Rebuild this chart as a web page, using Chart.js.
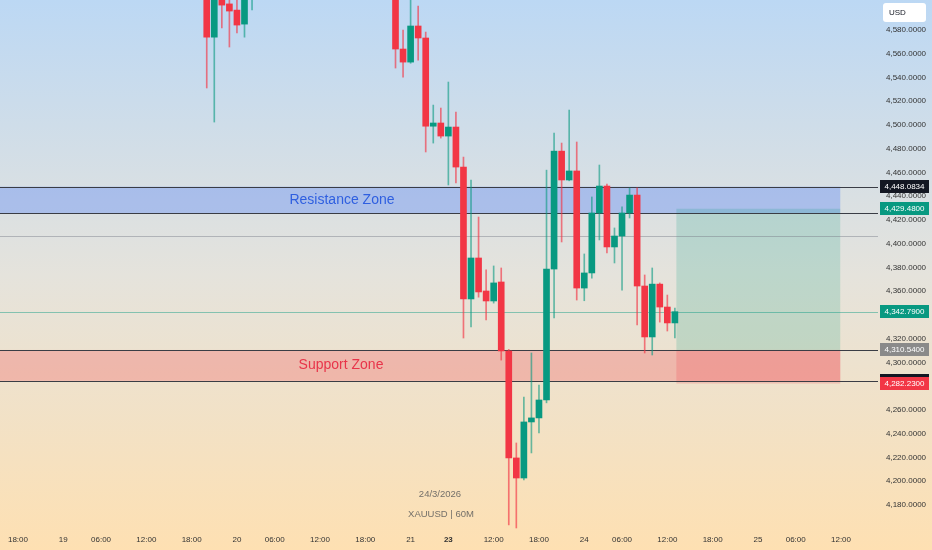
<!DOCTYPE html>
<html>
<head>
<meta charset="utf-8">
<script src="https://cdn.jsdelivr.net/npm/chart.js@4.4.1/dist/chart.umd.min.js"></script>
<style>
  html, body { margin: 0; padding: 0; background: #fff; }
  canvas { display: block; }
</style>
</head>
<body>
<canvas id="chart" width="932" height="550"></canvas>
<script>
// XAUUSD 60M candles, slot index = hours on the trading time axis
const FIRST_SLOT = 25;
const opens  = [4612, 4574, 4608, 4602, 4596.8, 4585, 4612,
  null, null, null, null, null, null, null, null, null, null, null, null, null, null, null, null, null, null,
  4612, 4564, 4553, 4583.4, 4573.3, 4499, 4501.7, 4490.7, 4498.3, 4464.6, 4353.5, 4388, 4360.2, 4351.8,
  4367.8, 4309.7, 4219.6, 4202.7, 4249.9, 4253.3, 4268.4, 4378.7, 4478, 4453.7, 4461.3, 4362.7, 4375.4,
  4425.9, 4448.6, 4397.3, 4406.5, 4425.9, 4441, 4364.4, 4321.5, 4366, 4346.7, 4333.3];
const highs  = [4618, 4625, 4612, 4612, 4608, 4620, 4625,
  null, null, null, null, null, null, null, null, null, null, null, null, null, null, null, null, null, null,
  4615, 4580, 4610, 4600.2, 4578.3, 4516.8, 4514.3, 4536.2, 4511, 4473, 4453.7, 4422.5, 4378, 4381.3,
  4379.6, 4311, 4232.2, 4270.9, 4308, 4281, 4462, 4493.3, 4484.8, 4512.6, 4485.7, 4391.4, 4439.4,
  4466.3, 4450.3, 4413.3, 4431, 4447, 4447, 4373.7, 4379.6, 4367, 4356.8, 4345.9];
const lows   = [4531.2, 4502.5, 4581.7, 4565.7, 4577.5, 4574, 4597,
  null, null, null, null, null, null, null, null, null, null, null, null, null, null, null, null, null, null,
  4548, 4540.4, 4552, 4554.7, 4477.3, 4484.8, 4489, 4449.5, 4451.2, 4320.6, 4330, 4355, 4335.8, 4350,
  4302, 4163.2, 4160.6, 4201, 4223.8, 4240.6, 4266, 4337.5, 4401.5, 4453, 4352.6, 4352, 4371,
  4403.2, 4392.2, 4383.8, 4361, 4421.7, 4331.6, 4308, 4306.3, 4334, 4326.5, 4320.6];
const closes = [4574, 4615, 4601, 4596, 4584.2, 4610, 4618,
  null, null, null, null, null, null, null, null, null, null, null, null, null, null, null, null, null, null,
  4564, 4553, 4583.4, 4573.3, 4499, 4501.7, 4490.7, 4498.3, 4464.6, 4353.5, 4388, 4359.4, 4351.8, 4367,
  4309.7, 4219.6, 4202.7, 4249.9, 4253.3, 4268.4, 4378.7, 4478, 4453.7, 4461.3, 4362.7, 4375.4, 4425.9,
  4448.6, 4397.3, 4406.5, 4425.9, 4441, 4364.4, 4321.5, 4366, 4346.7, 4333.3, 4342.79];

// time axis ticks
const xTickSlots  = [0, 6, 11, 17, 23, 29, 34, 40, 46, 52, 57, 63, 69, 75, 80, 86, 92, 98, 103, 109];
const xTickLabels = ["18:00", "19", "06:00", "12:00", "18:00", "20", "06:00", "12:00", "18:00", "21",
  "23", "12:00", "18:00", "24", "06:00", "12:00", "18:00", "25", "06:00", "12:00"];

// drawings (prices / slots)
const resistanceZone = [4448.0834, 4425.9];
const supportZone    = [4310.54, 4284.5];
const zoneEndSlot    = 108.9;
const hLinePrice     = 4406.5;
const lastPrice      = 4342.79;
const position       = { entry: 4310.54, target: 4429.48, stop: 4282.23, from: 87.2, to: 108.9 };

const UP = "#089981", DOWN = "#F23645";
const FONT = "'Liberation Sans', Arial, sans-serif";

const wickData = [], bodyData = [], bodyColors = [], wickColors = [];
opens.forEach((o, k) => {
  if (o === null) return;
  const slot = FIRST_SLOT + k;
  const up = closes[k] >= o;
  wickData.push({ x: slot, y: [lows[k], highs[k]] });
  bodyData.push({ x: slot, y: [o, closes[k]] });
  bodyColors.push(up ? UP : DOWN);
  wickColors.push(up ? "rgba(8,153,129,0.6)" : "rgba(242,54,69,0.65)");
});

const fmt = v => v.toLocaleString("en-US", { minimumFractionDigits: 4, maximumFractionDigits: 4 });

const background = {
  id: "background",
  beforeDraw(chart) {
    const { ctx, width, height } = chart;
    const g = ctx.createLinearGradient(0, 0, 0, height);
    g.addColorStop(0, "#bcd8f4");
    g.addColorStop(0.5, "#e5e3dc");
    g.addColorStop(1, "#fee0b2");
    ctx.save();
    ctx.fillStyle = g;
    ctx.fillRect(0, 0, width, height);
    ctx.restore();
  }
};

const drawings = {
  id: "drawings",
  beforeDatasetsDraw(chart) {
    const { ctx, scales: { x, y } } = chart;
    const x0 = x.getPixelForValue(x.min), x1 = x.getPixelForValue(zoneEndSlot);
    ctx.save();
    // zones
    ctx.fillStyle = "rgba(41,98,255,0.27)";
    ctx.fillRect(x0, y.getPixelForValue(resistanceZone[0]), x1 - x0,
      y.getPixelForValue(resistanceZone[1]) - y.getPixelForValue(resistanceZone[0]));
    ctx.fillStyle = "rgba(242,54,69,0.25)";
    ctx.fillRect(x0, y.getPixelForValue(supportZone[0]), x1 - x0,
      y.getPixelForValue(supportZone[1]) - y.getPixelForValue(supportZone[0]));
    // long position
    const px0 = x.getPixelForValue(position.from), px1 = x.getPixelForValue(position.to);
    const yT = y.getPixelForValue(position.target), yE = y.getPixelForValue(position.entry), yS = y.getPixelForValue(position.stop);
    ctx.fillStyle = "rgba(8,153,129,0.18)";
    ctx.fillRect(px0, yT, px1 - px0, yE - yT);
    ctx.fillStyle = "rgba(242,54,69,0.2)";
    ctx.fillRect(px0, yE, px1 - px0, yS - yE);
    // thin lines
    const right = chart.chartArea.right;
    const hline = (p, color) => {
      const yy = Math.round(y.getPixelForValue(p)) + 0.5;
      ctx.strokeStyle = color;
      ctx.lineWidth = 1;
      ctx.beginPath(); ctx.moveTo(0, yy); ctx.lineTo(right, yy); ctx.stroke();
    };
    hline(hLinePrice, "rgba(120,125,135,0.45)");
    hline(lastPrice, "rgba(8,153,129,0.45)");
    [resistanceZone[0], resistanceZone[1], supportZone[0], supportZone[1]].forEach(p => hline(p, "#3a3d45"));
    // zone texts
    ctx.font = "14px " + FONT;
    ctx.textAlign = "center";
    ctx.textBaseline = "middle";
    ctx.fillStyle = "#2f5fe0";
    ctx.fillText("Resistance Zone", 342, (y.getPixelForValue(resistanceZone[0]) + y.getPixelForValue(resistanceZone[1])) / 2);
    ctx.fillStyle = "#e8344a";
    ctx.fillText("Support Zone", 341, (y.getPixelForValue(supportZone[0]) + y.getPixelForValue(supportZone[1])) / 2);
    // watermark
    ctx.font = "9.5px " + FONT;
    ctx.fillStyle = "rgba(90,90,90,0.85)";
    ctx.fillText("24/3/2026", 440, 494);
    ctx.fillText("XAUUSD | 60M", 441, 514);
    ctx.restore();
  },
  afterDraw(chart) {
    const { ctx, scales: { y } } = chart;
    const lx = chart.chartArea.right + 2;
    ctx.save();
    ctx.font = "8px " + FONT;
    ctx.textAlign = "center";
    ctx.textBaseline = "middle";
    const tag = (p, bg, fg) => {
      const yy = y.getPixelForValue(p);
      ctx.fillStyle = bg;
      ctx.fillRect(lx, Math.round(yy - 6.5), 49, 13);
      ctx.fillStyle = fg;
      ctx.fillText(fmt(p), lx + 24.5, yy);
    };
    tag(resistanceZone[0], "#131722", "#fff");
    tag(position.target, UP, "#fff");
    tag(lastPrice, UP, "#fff");
    tag(position.entry, "#8a8a8a", "#fff");
    tag(supportZone[1], "#131722", "#fff");
    tag(position.stop, DOWN, "#fff");
    // currency box
    ctx.fillStyle = "#fff";
    ctx.beginPath();
    ctx.roundRect(883, 3, 43, 19, 3);
    ctx.fill();
    ctx.fillStyle = "#131722";
    ctx.textAlign = "left";
    ctx.fillText("USD", 889, 12.5);
    ctx.restore();
  }
};

new Chart(document.getElementById("chart"), {
  type: "bar",
  data: {
    datasets: [
      { data: wickData, backgroundColor: wickColors, barThickness: 1, grouped: false, order: 2 },
      { data: bodyData, backgroundColor: bodyColors, barThickness: 6, minBarLength: 1, grouped: false, order: 1 }
    ]
  },
  options: {
    responsive: false,
    animation: false,
    layout: { padding: 0 },
    plugins: { legend: { display: false }, tooltip: { enabled: false } },
    scales: {
      x: {
        type: "linear",
        offset: false,
        min: -2.38,
        max: 113.9,
        grid: { display: false, drawTicks: false, offset: false },
        border: { display: false },
        afterBuildTicks: s => { s.ticks = xTickSlots.map(v => ({ value: v })); },
        afterFit: s => { s.height = 20; s.paddingLeft = 0; s.paddingRight = 0; },
        ticks: {
          autoSkip: false,
          maxRotation: 0,
          padding: 5,
          color: "#333",
          font: c => ({ family: FONT, size: 8, weight: c.tick && c.tick.value === 57 ? "bold" : "normal" }),
          callback: (v, i) => xTickLabels[i]
        }
      },
      y: {
        position: "right",
        min: 4158.9,
        max: 4605.3,
        grid: { display: false, drawTicks: false },
        border: { display: false },
        afterBuildTicks: s => {
          const t = [];
          for (let v = 4180; v <= 4580; v += 20) t.push({ value: v });
          s.ticks = t;
        },
        afterFit: s => { s.width = 54; s.paddingTop = 0; s.paddingBottom = 0; },
        ticks: { padding: 8, color: "#333", font: { family: FONT, size: 8 }, callback: v => fmt(v) }
      }
    }
  },
  plugins: [background, drawings]
});
</script>
</body>
</html>
